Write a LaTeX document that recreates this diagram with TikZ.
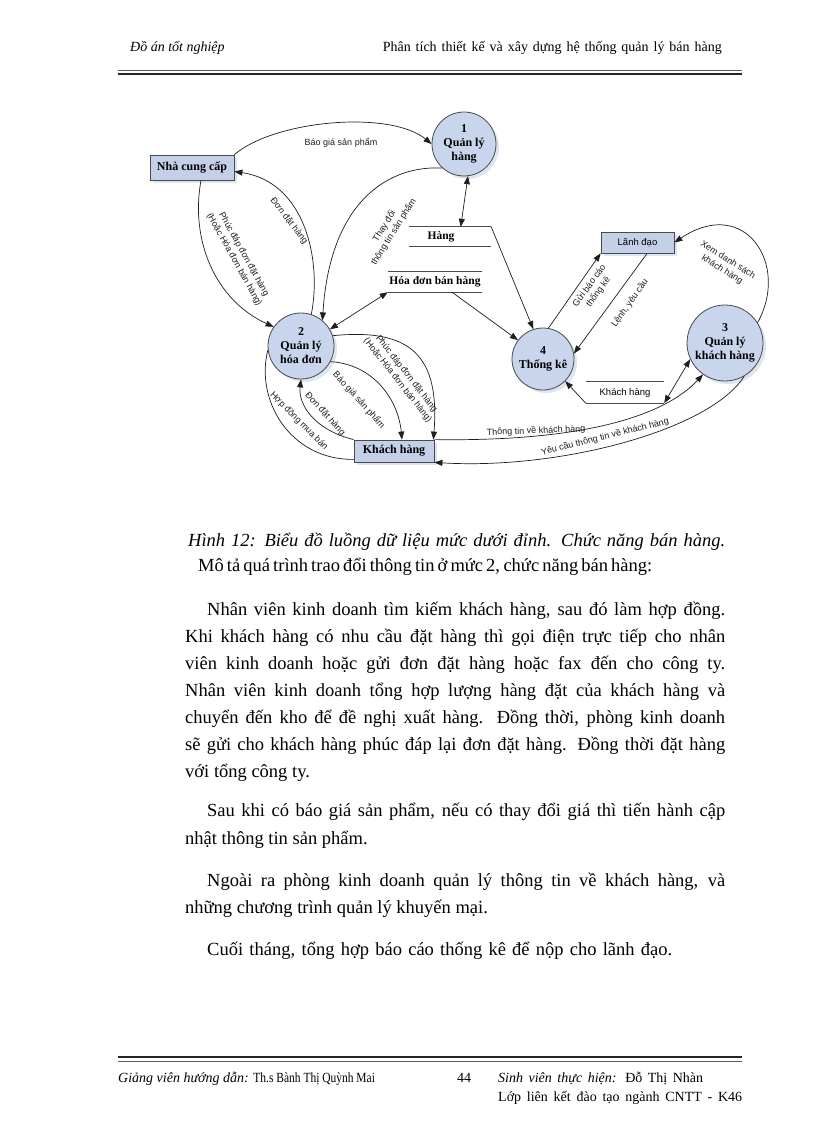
\documentclass[tikz,border=0pt]{standalone}
\usepackage{fontspec}
\setmainfont{Liberation Serif}
\newfontfamily\sansf{Liberation Sans}
\usetikzlibrary{arrows.meta,shadows,calc}
\definecolor{procfill}{HTML}{C8D5EC}
\definecolor{extfill}{HTML}{C3D0E8}
\definecolor{shadowc}{HTML}{DDE5F1}
\definecolor{linec}{HTML}{1E1E1E}
\definecolor{bordc}{HTML}{4A4A4A}
\tikzset{
  proc/.style={circle, draw=bordc, line width=0.8pt, fill=procfill, inner sep=0pt, align=center,
    font=\bfseries\fontsize{12}{14}\selectfont,
    drop shadow={shadow xshift=3pt, shadow yshift=-3pt, fill=shadowc, opacity=1}},
  ext/.style={rectangle, draw=bordc, line width=0.8pt, fill=extfill, inner sep=0pt,
    font=\bfseries\fontsize{12}{14}\selectfont,
    drop shadow={shadow xshift=3pt, shadow yshift=-3pt, fill=shadowc, opacity=1}},
  store/.style={rectangle, inner sep=0pt},
  storeline/.style={draw=bordc, line width=1pt},
  flow/.style={draw=linec, line width=0.7pt, -{Triangle[length=8pt,width=6pt]}},
  biflow/.style={draw=linec, line width=0.7pt, {Triangle[length=8pt,width=6pt]}-{Triangle[length=8pt,width=6pt]}},
  plainflow/.style={draw=linec, line width=0.7pt},
  lbl/.style={font=\sansf\fontsize{9}{11}\selectfont, text=linec, inner sep=0pt, align=center},
  bodyline/.style={anchor=base west, inner sep=0pt, font=\fontsize{18.5}{20}\selectfont},
  headtext/.style={inner sep=0pt, font=\fontsize{14}{16}\selectfont},
}
\begin{document}
\begin{tikzpicture}[x=1pt,y=-1pt]
\useasboundingbox (0,0) rectangle (816,1123);
\fill[white] (0,0) rectangle (816,1123);

% header
\node[headtext, anchor=base west] (h1) at (130,52) {\itshape Đồ án tốt nghiệp};
\node[headtext, anchor=base east] (h2) at (722,52) {\makebox[339pt][s]{Phân tích thiết kế và xây dựng hệ thống quản lý bán hàng}};
\draw[line width=0.8pt, black!65] (118,70.5) -- (742,70.5);
\draw[line width=2pt, black!85] (118,74) -- (742,74);

% diagram nodes
\node[ext, minimum width=84pt, minimum height=25pt] (sup) at (192,167.5) {Nhà cung cấp};
\node[proc, minimum size=64pt] (p1) at (464,144) {1\\Quản lý\\hàng};
\node[proc, minimum size=66pt] (p2) at (301,346) {2\\Quản lý\\hóa đơn};
\node[proc, minimum size=62pt] (p4) at (543,359) {4\\Thống kê};
\node[proc, minimum size=76pt] (p3) at (725,343) {3\\Quản lý\\khách hàng};
\node[ext, minimum width=73pt, minimum height=21pt, font=\sansf\fontsize{9.5}{11}\selectfont] (lead) at (637.5,242.5) {Lãnh đạo};
\node[ext, minimum width=80pt, minimum height=22pt] (kh) at (394,451) {Khách hàng};

\node[store, minimum width=82pt, minimum height=19pt] (sh) at (450,236.5) {};
\node[inner sep=0pt, font=\bfseries\fontsize{11.5}{13}\selectfont] (sht) at (441,237) {Hàng};
\node[store, minimum width=94pt, minimum height=20pt, font=\bfseries\fontsize{11.5}{13}\selectfont] (shd) at (435,282) {Hóa đơn bán hàng};
\node[store, minimum width=78pt, minimum height=21pt, font=\sansf\fontsize{9.5}{11}\selectfont] (sk) at (625,392.5) {Khách hàng};
\foreach \s in {sh,shd,sk} {
  \draw[storeline] (\s.north west) -- (\s.north east);
  \draw[storeline] (\s.south west) -- (\s.south east);
}

% connectors
\draw[flow] (sup.north east) .. controls (275,120) and (390,110) .. (p1.west);
\node[lbl] (l1) at (341,143) {Báo giá sản phẩm};

\draw[flow] (p2.72) .. controls (322,260) and (305,182) .. ($(sup.east)+(0,4)$);
\node[lbl, rotate=-52] (l2) at (289,221) {Đơn đặt hàng};

\draw[flow] ($(sup.south)+(9,0)$) .. controls (190,240) and (215,300) .. (p2.145);
\node[lbl, rotate=-61] (l3) at (239,257) {Phúc đáp đơn đặt hàng\\(Hoặc Hóa đơn bán hàng)};

\draw[flow] (p1.228) .. controls (390,165) and (330,200) .. (p2.50);
\node[lbl, rotate=58] (l4) at (389,229) {Thay đổi\\thông tin sản phẩm};

\draw[biflow] (p2.30) -- (shd.south west);
\draw[flow] ($(shd.south west)!0.68!(shd.south east)$) -- (p4.143);
\draw[flow] (sh.north east) -- (p4.108);
\draw[biflow] (p1.-83) -- ($(sh.north west)!0.63!(sh.north east)$);

\draw[flow] (p4.80) -- (lead.south west);
\node[lbl, rotate=54] (l5) at (594,289) {Gửi báo cáo\\thống kê};
\draw[flow] ($(lead.south west)!0.63!(lead.south east)$) -- (p4.10);
\node[lbl, rotate=55] (l6) at (630,303) {Lệnh, yêu cầu};

\draw[flow] (p3.32) .. controls (790,265) and (745,195) .. (lead.east);
\node[lbl, rotate=-32] (l7) at (725,265) {Xem danh sách\\khách hàng};

\draw[biflow] (sk.south east) -- (p3.205);
\draw[flow] (sk.south west) -- (p4.-45);

\draw[flow] (kh.north east) .. controls (600,442) and (670,410) .. (p3.235);
\node[lbl, rotate=2] (l8) at (536,431) {Thông tin về khách hàng};

\draw[flow] (p3.-60) .. controls (710,430) and (560,470) .. (kh.south east);
\node[lbl, rotate=14] (l9) at (605,437) {Yêu cầu thông tin về khách hàng};

\draw[flow] (p2.-28) .. controls (372,364) and (398,398) .. ($(kh.north)+(8,0)$);
\node[lbl, rotate=-48] (l10) at (359,400) {Báo giá sản phẩm};

\draw[flow] (p2.18) .. controls (410,328) and (440,355) .. ($(kh.north east)+(-1,0)$);
\node[lbl, rotate=-52] (l11) at (402,377) {Phúc đáp đơn đặt hàng\\(Hoặc Hóa đơn bán hàng)};

\draw[flow] (kh.north west) .. controls (315,430) and (298,405) .. (p2.-90);
\node[lbl, rotate=-48] (l12) at (325,414) {Đơn đặt hàng};

\draw[plainflow] (p2.187) .. controls (255,400) and (290,460) .. ($(kh.south west)+(0,-3)$);
\node[lbl, rotate=-45] (l13) at (299,421) {Hợp đồng mua bán};

% caption and text
\node[bodyline] (c1) at (188,546) {\makebox[537pt][s]{\itshape Hình 12: Biểu đồ luồng dữ liệu mức dưới đỉnh. Chức năng bán hàng.}};
\node[bodyline] (c2) at (198,571) {\makebox[442pt][s]{Mô tả quá trình trao đổi thông tin ở mức 2, chức năng bán hàng:}};

\node[bodyline] (t1) at (207,615) {\makebox[518pt][s]{Nhân viên kinh doanh tìm kiếm khách hàng, sau đó làm hợp đồng.}};
\node[bodyline] (t2) at (185,642) {\makebox[540pt][s]{Khi khách hàng có nhu cầu đặt hàng thì gọi điện trực tiếp cho nhân}};
\node[bodyline] (t3) at (185,669) {\makebox[540pt][s]{viên kinh doanh hoặc gửi đơn đặt hàng hoặc fax đến cho công ty.}};
\node[bodyline] (t4) at (185,696) {\makebox[540pt][s]{Nhân viên kinh doanh tổng hợp lượng hàng đặt của khách hàng và}};
\node[bodyline] (t5) at (185,723) {\makebox[540pt][s]{chuyển đến kho để đề nghị xuất hàng. Đồng thời, phòng kinh doanh}};
\node[bodyline] (t6) at (185,750) {\makebox[540pt][s]{sẽ gửi cho khách hàng phúc đáp lại đơn đặt hàng. Đồng thời đặt hàng}};
\node[bodyline] (t7) at (185,777) {với tổng công ty.};

\node[bodyline] (t8) at (207,816) {\makebox[518pt][s]{Sau khi có báo giá sản phẩm, nếu có thay đổi giá thì tiến hành cập}};
\node[bodyline] (t9) at (185,844) {nhật thông tin sản phẩm.};

\node[bodyline] (t10) at (207,886) {\makebox[518pt][s]{Ngoài ra phòng kinh doanh quản lý thông tin về khách hàng, và}};
\node[bodyline] (t11) at (185,913) {những chương trình quản lý khuyến mại.};

\node[bodyline] (t12) at (207,955) {\makebox[465pt][s]{Cuối tháng, tổng hợp báo cáo thống kê để nộp cho lãnh đạo.}};

% footer
\draw[line width=2.2pt, black!85] (118,1057) -- (742,1057);
\draw[line width=0.8pt, black!65] (118,1061) -- (742,1061);
\node[headtext, anchor=base west] (f1) at (118,1082) {{\itshape Giảng viên hướng dẫn:} \scalebox{0.82}[1]{Th.s Bành Thị Quỳnh Mai}};
\node[headtext, anchor=base west] (f2) at (457,1082) {44};
\node[headtext, anchor=base west] (f3) at (498,1082) {\makebox[205pt][s]{{\itshape Sinh viên thực hiện:} Đỗ Thị Nhàn}};
\node[headtext, anchor=base west] (f4) at (498,1101) {\makebox[244pt][s]{Lớp liên kết đào tạo ngành CNTT - K46}};
\end{tikzpicture}
\end{document}
